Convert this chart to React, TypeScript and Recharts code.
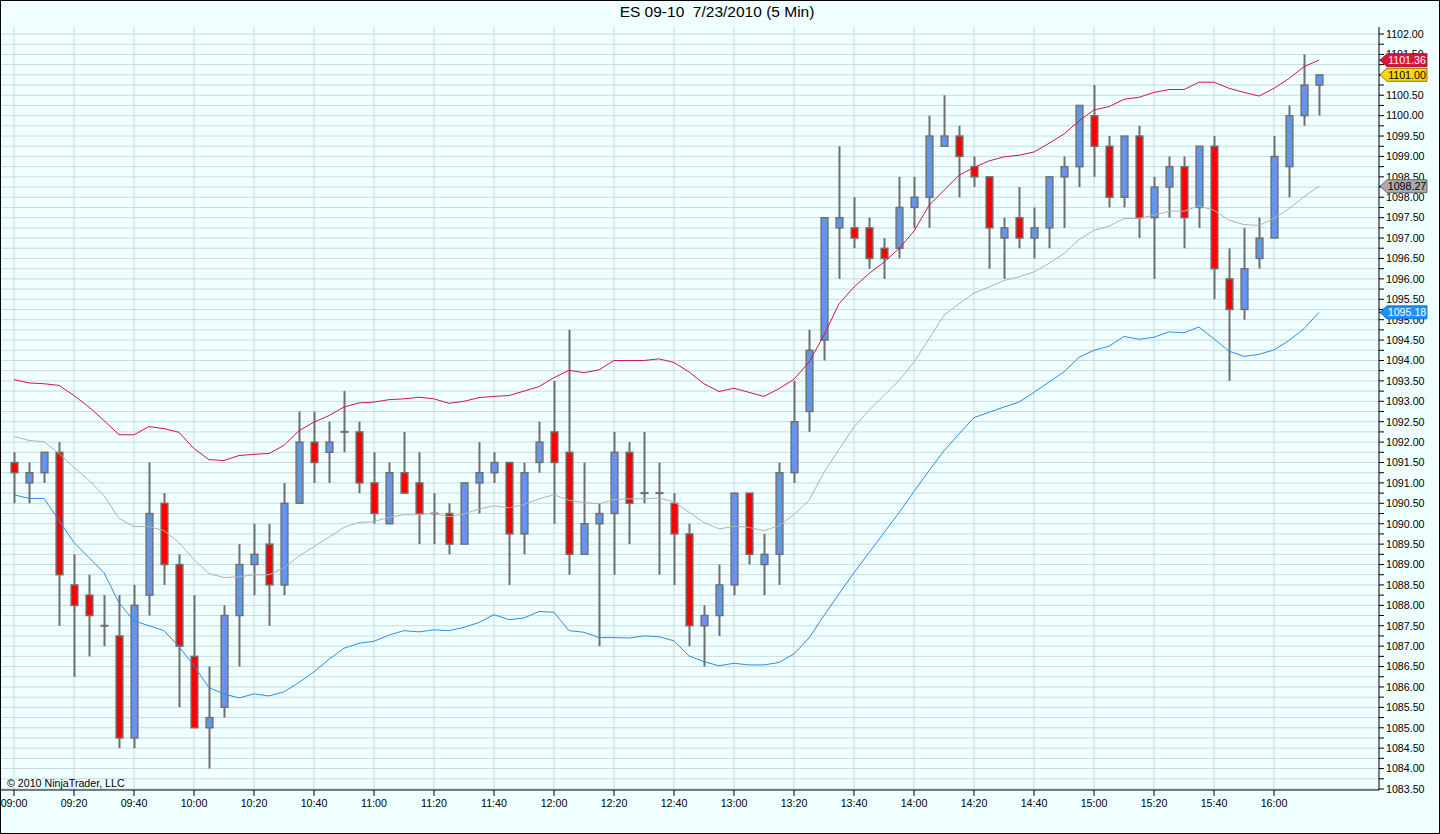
import React from 'react';
import { ComposedChart, Bar, Line, XAxis, YAxis, CartesianGrid } from 'recharts';

const FONT = "'Liberation Sans', Arial, sans-serif";

const openPrices = [
  1091.5, 1091.0, 1091.25, 1091.75, 1088.5, 1088.25, 1087.5, 1087.25, 1084.75, 1088.25,
  1090.5, 1089.0, 1086.75, 1085.0, 1085.5, 1087.75, 1089.0, 1089.5, 1088.5, 1090.5,
  1092.0, 1091.75, 1092.25, 1092.25, 1091.0, 1090.0, 1091.25, 1091.0, 1090.25, 1090.25,
  1089.5, 1091.0, 1091.25, 1091.5, 1089.75, 1091.5, 1092.25, 1091.75, 1089.25, 1090.0,
  1090.25, 1091.75, 1090.75, 1090.75, 1090.5, 1089.75, 1087.5, 1087.75, 1088.5, 1090.75,
  1089.0, 1089.25, 1091.25, 1092.75, 1094.5, 1097.25, 1097.25, 1097.25, 1096.75, 1096.75,
  1097.75, 1098.0, 1099.25, 1099.5, 1098.75, 1098.5, 1097.0, 1097.5, 1097.0, 1097.25,
  1098.5, 1098.75, 1100.0, 1099.25, 1098.0, 1099.5, 1097.5, 1098.25, 1098.75, 1097.75,
  1099.25, 1096.0, 1095.25, 1096.5, 1097.0, 1098.75, 1100.0, 1100.75,
];

const highPrices = [
  1091.75, 1091.5, 1091.75, 1092.0, 1089.25, 1088.75, 1088.25, 1088.25, 1088.5, 1091.5,
  1090.75, 1089.25, 1088.25, 1086.5, 1088.0, 1089.5, 1090.0, 1090.0, 1091.0, 1092.75,
  1092.75, 1092.5, 1093.25, 1092.5, 1091.75, 1091.5, 1092.25, 1091.75, 1090.75, 1090.5,
  1091.0, 1092.0, 1091.75, 1091.5, 1091.5, 1092.5, 1093.5, 1094.75, 1091.5, 1090.5,
  1092.25, 1092.0, 1092.25, 1091.5, 1090.75, 1090.0, 1088.0, 1089.0, 1090.75, 1090.75,
  1089.75, 1091.5, 1093.5, 1094.75, 1097.5, 1099.25, 1098.0, 1097.5, 1097.0, 1098.5,
  1098.5, 1100.0, 1100.5, 1099.75, 1099.0, 1098.5, 1097.5, 1098.25, 1097.75, 1098.5,
  1099.0, 1100.25, 1100.75, 1099.5, 1099.5, 1099.75, 1098.5, 1099.0, 1099.0, 1099.25,
  1099.5, 1096.75, 1097.25, 1097.5, 1099.5, 1100.25, 1101.5, 1101.0,
];

const lowPrices = [
  1090.5, 1090.5, 1091.0, 1087.5, 1086.25, 1086.75, 1087.0, 1084.5, 1084.5, 1087.75,
  1088.5, 1085.5, 1085.0, 1084.0, 1085.25, 1086.5, 1088.25, 1087.5, 1088.25, 1090.5,
  1091.0, 1091.0, 1091.75, 1090.75, 1090.0, 1090.0, 1090.75, 1089.5, 1089.5, 1089.25,
  1089.5, 1090.25, 1091.0, 1088.5, 1089.25, 1091.25, 1090.0, 1088.75, 1089.25, 1087.0,
  1088.75, 1089.5, 1090.5, 1088.75, 1088.5, 1087.0, 1086.5, 1087.25, 1088.25, 1089.0,
  1088.25, 1088.5, 1091.0, 1092.25, 1094.0, 1096.0, 1096.75, 1096.25, 1096.0, 1096.5,
  1097.25, 1097.25, 1099.25, 1098.0, 1098.25, 1096.25, 1096.0, 1096.75, 1096.5, 1096.75,
  1097.25, 1098.25, 1098.5, 1097.75, 1097.75, 1097.0, 1096.0, 1097.5, 1096.75, 1097.25,
  1095.5, 1093.5, 1095.0, 1096.25, 1097.0, 1098.0, 1099.75, 1100.0,
];

const closePrices = [
  1091.25, 1091.25, 1091.75, 1088.75, 1088.0, 1087.75, 1087.5, 1084.75, 1088.0, 1090.25,
  1089.0, 1087.0, 1085.0, 1085.25, 1087.75, 1089.0, 1089.25, 1088.5, 1090.5, 1092.0,
  1091.5, 1092.0, 1092.25, 1091.0, 1090.25, 1091.25, 1090.75, 1090.25, 1090.25, 1089.5,
  1091.0, 1091.25, 1091.5, 1089.75, 1091.25, 1092.0, 1091.5, 1089.25, 1090.0, 1090.25,
  1091.75, 1090.5, 1090.75, 1090.75, 1089.75, 1087.5, 1087.75, 1088.5, 1090.75, 1089.25,
  1089.25, 1091.25, 1092.5, 1094.25, 1097.5, 1097.5, 1097.0, 1096.5, 1096.5, 1097.75,
  1098.0, 1099.5, 1099.5, 1099.0, 1098.5, 1097.25, 1097.25, 1097.0, 1097.25, 1098.5,
  1098.75, 1100.25, 1099.25, 1098.0, 1099.5, 1097.5, 1098.25, 1098.75, 1097.5, 1099.25,
  1096.25, 1095.25, 1096.25, 1097.0, 1099.0, 1100.0, 1100.75, 1101.0,
];

const upperBand = [
  1093.53, 1093.45, 1093.43, 1093.39, 1093.14, 1092.86, 1092.53, 1092.18, 1092.18, 1092.38,
  1092.33, 1092.24, 1091.84, 1091.57, 1091.55, 1091.67, 1091.70, 1091.72, 1091.92, 1092.28,
  1092.49, 1092.65, 1092.86, 1092.96, 1092.98, 1093.04, 1093.06, 1093.10, 1093.06, 1092.95,
  1093.00, 1093.09, 1093.12, 1093.14, 1093.25, 1093.36, 1093.58, 1093.76, 1093.70, 1093.77,
  1094.00, 1094.00, 1094.00, 1094.04, 1093.95, 1093.72, 1093.43, 1093.24, 1093.32, 1093.22,
  1093.12, 1093.31, 1093.54, 1093.96, 1094.62, 1095.39, 1095.80, 1096.13, 1096.41, 1096.74,
  1097.17, 1097.80, 1098.17, 1098.54, 1098.73, 1098.89, 1098.99, 1099.03, 1099.11, 1099.32,
  1099.55, 1099.87, 1100.14, 1100.22, 1100.40, 1100.45, 1100.57, 1100.64, 1100.64, 1100.82,
  1100.82, 1100.67, 1100.57, 1100.48, 1100.67, 1100.91, 1101.20, 1101.36,
];

const middleBand = [
  1092.14, 1092.04, 1092.01, 1091.72, 1091.38, 1091.06, 1090.69, 1090.13, 1089.93, 1089.93,
  1089.83, 1089.54, 1089.12, 1088.78, 1088.68, 1088.70, 1088.75, 1088.75, 1088.92, 1089.21,
  1089.44, 1089.67, 1089.91, 1090.03, 1090.05, 1090.16, 1090.22, 1090.22, 1090.26, 1090.17,
  1090.24, 1090.36, 1090.44, 1090.39, 1090.47, 1090.61, 1090.71, 1090.57, 1090.52, 1090.49,
  1090.59, 1090.61, 1090.61, 1090.63, 1090.54, 1090.28, 1090.03, 1089.87, 1089.94, 1089.91,
  1089.83, 1089.95, 1090.22, 1090.57, 1091.26, 1091.82, 1092.37, 1092.78, 1093.14, 1093.51,
  1093.96, 1094.53, 1095.11, 1095.39, 1095.65, 1095.80, 1095.96, 1096.05, 1096.17, 1096.38,
  1096.62, 1096.96, 1097.19, 1097.29, 1097.48, 1097.48, 1097.56, 1097.66, 1097.66, 1097.79,
  1097.68, 1097.44, 1097.33, 1097.31, 1097.48, 1097.72, 1098.01, 1098.27,
];

const lowerBand = [
  1090.71, 1090.62, 1090.62, 1090.08, 1089.54, 1089.17, 1088.80, 1088.06, 1087.62, 1087.50,
  1087.38, 1086.99, 1086.52, 1085.98, 1085.83, 1085.73, 1085.83, 1085.78, 1085.88, 1086.11,
  1086.37, 1086.68, 1086.95, 1087.07, 1087.12, 1087.27, 1087.38, 1087.35, 1087.40, 1087.38,
  1087.46, 1087.58, 1087.77, 1087.65, 1087.69, 1087.85, 1087.83, 1087.38, 1087.34, 1087.21,
  1087.21, 1087.20, 1087.25, 1087.23, 1087.13, 1086.76, 1086.62, 1086.52, 1086.58, 1086.54,
  1086.54, 1086.60, 1086.81, 1087.20, 1087.75, 1088.28, 1088.80, 1089.29, 1089.78, 1090.27,
  1090.79, 1091.30, 1091.79, 1092.20, 1092.60, 1092.73, 1092.86, 1092.98, 1093.22, 1093.47,
  1093.72, 1094.08, 1094.25, 1094.35, 1094.59, 1094.52, 1094.57, 1094.70, 1094.68, 1094.82,
  1094.53, 1094.23, 1094.10, 1094.15, 1094.26, 1094.49, 1094.78, 1095.18,
];

const xTickIndex = [0, 4, 8, 12, 16, 20, 24, 28, 32, 36, 40, 44, 48, 52, 56, 60, 64, 68, 72, 76, 80, 84];
const xTickLabels = [
  '09:00', '09:20', '09:40', '10:00', '10:20', '10:40', '11:00', '11:20', '11:40', '12:00', '12:20',
  '12:40', '13:00', '13:20', '13:40', '14:00', '14:20', '14:40', '15:00', '15:20', '15:40', '16:00',
];
const yTicks = Array.from({ length: 75 }, (_, k) => 1083.5 + k * 0.25);

const data = openPrices.map((o, i) => ({
  i,
  open: o,
  high: highPrices[i],
  low: lowPrices[i],
  close: closePrices[i],
  range: [lowPrices[i], highPrices[i]],
  upper: upperBand[i],
  middle: middleBand[i],
  lower: lowerBand[i],
}));

const last = closePrices.length - 1;
const markers = [
  { value: upperBand[last], fill: '#DC143C', stroke: '#8a1028', color: '#ffffff' },
  { value: closePrices[last], fill: '#FFD700', stroke: '#6b5a00', color: '#000000' },
  { value: middleBand[last], fill: '#A9A9A9', stroke: '#555555', color: '#000000' },
  { value: lowerBand[last], fill: '#1E90FF', stroke: '#0f5aa8', color: '#ffffff' },
];
// axis ticks: regular price ticks first, then the price tags so the tags paint on top
const axisTicks = [...yTicks, ...markers.map((m) => m.value)];

const Y_AXIS_WIDTH = 61;
const Y_TICK_SIZE = 5;
const Y_TICK_MARGIN = 2;
const Y_DOMAIN = [1083.475, 1102.172];
const X_DOMAIN = [-0.933, 91];
const OUTLINE = '#6e6e6e';

const Candle = (props: any) => {
  const { x, y, width, height, payload } = props;
  if (!payload || x == null || y == null) return null;
  const top = Math.min(y, y + height);
  const bot = Math.max(y, y + height);
  const H = payload.high;
  const L = payload.low;
  const k = H - L === 0 ? 0 : (bot - top) / (H - L);
  const pv = (v: number) => top + (H - v) * k;
  const cx = x + width / 2;
  const o = payload.open;
  const c = payload.close;
  const bTop = pv(Math.max(o, c));
  const bBot = pv(Math.min(o, c));
  const up = c > o;
  return (
    <g>
      <line x1={cx} x2={cx} y1={top} y2={bot} stroke={OUTLINE} strokeWidth={2} />
      {o === c ? (
        <line x1={cx - 4} x2={cx + 4} y1={bTop} y2={bTop} stroke={OUTLINE} strokeWidth={2} />
      ) : (
        <rect
          x={cx - 3.4}
          width={6.8}
          y={bTop}
          height={Math.max(bBot - bTop, 1)}
          fill={up ? '#6495ED' : '#FF0000'}
          stroke={OUTLINE}
          strokeWidth={1.4}
        />
      )}
    </g>
  );
};

const PriceTick = (props: any) => {
  const { x, y, payload, index } = props;
  if (x == null || y == null || !payload) return null;
  const v = payload.value;
  if (index >= yTicks.length) {
    const m = markers[index - yTicks.length];
    if (!m) return null;
    const R = x - Y_TICK_SIZE - Y_TICK_MARGIN;
    const h = 6.5;
    const pts = `${R + 1},${y} ${R + 8},${y - h} ${R + 48},${y - h} ${R + 48},${y + h} ${R + 8},${y + h}`;
    return (
      <g>
        <polygon points={pts} fill={m.fill} stroke={m.stroke} strokeWidth={0.8} />
        <text x={R + 28} y={y} dy="0.36em" textAnchor="middle" fontSize={10.67} fontFamily={FONT} fill={m.color}>
          {m.value.toFixed(2)}
        </text>
      </g>
    );
  }
  if (Math.round(v * 4) % 2 !== 0) return null;
  return (
    <text x={x} y={y} dy="0.36em" textAnchor="start" fontSize={10.67} fontFamily={FONT} fill="#000">
      {v.toFixed(2)}
    </text>
  );
};

const tickStyle = { fill: '#000', fontSize: 10.67, fontFamily: FONT };

export default function App() {
  return (
    <div
      style={{
        position: 'absolute',
        left: 0,
        top: 0,
        width: 1440,
        height: 834,
        background: '#F0FFFF',
        overflow: 'hidden',
      }}
    >
      <div
        style={{
          position: 'absolute',
          left: 0,
          top: 3,
          width: 1434,
          height: 18,
          lineHeight: '18px',
          textAlign: 'center',
          fontFamily: FONT,
          fontSize: 15.5,
          color: '#000',
          whiteSpace: 'pre',
        }}
      >
        {'ES 09-10  7/23/2010 (5 Min)'}
      </div>
      <ComposedChart width={1440} height={834} data={data} margin={{ top: 27, right: 0, bottom: 0, left: 0 }}>
        <CartesianGrid stroke="#cbd9dd" strokeWidth={1} horizontalValues={yTicks} verticalValues={xTickIndex} />
        <XAxis
          dataKey="i"
          type="number"
          domain={X_DOMAIN}
          ticks={xTickIndex}
          interval={0}
          tickFormatter={(v: number) => xTickLabels[xTickIndex.indexOf(v)] ?? ''}
          height={44}
          tickSize={6}
          tickMargin={3}
          axisLine={{ stroke: '#000' }}
          tickLine={{ stroke: '#000' }}
          tick={tickStyle}
        />
        <XAxis
          xAxisId="top"
          orientation="top"
          dataKey="i"
          type="number"
          domain={X_DOMAIN}
          height={0}
          tick={false}
          tickLine={false}
          axisLine={{ stroke: '#000' }}
        />
        <YAxis
          orientation="right"
          type="number"
          domain={Y_DOMAIN}
          ticks={axisTicks}
          interval={0}
          width={Y_AXIS_WIDTH}
          tickSize={Y_TICK_SIZE}
          tickMargin={Y_TICK_MARGIN}
          axisLine={{ stroke: '#000' }}
          tickLine={{ stroke: '#000' }}
          tick={(p: any) => <PriceTick {...p} />}
        />
        <Bar dataKey="range" barSize={8} shape={(p: any) => <Candle {...p} />} isAnimationActive={false} />
        <Line type="linear" dataKey="upper" stroke="#D0164A" strokeWidth={1} dot={false} activeDot={false} isAnimationActive={false} />
        <Line type="linear" dataKey="middle" stroke="#B2B2B2" strokeWidth={1} dot={false} activeDot={false} isAnimationActive={false} />
        <Line type="linear" dataKey="lower" stroke="#2A8FE6" strokeWidth={1} dot={false} activeDot={false} isAnimationActive={false} />
      </ComposedChart>
      <div
        style={{
          position: 'absolute',
          left: 7,
          top: 777,
          fontFamily: FONT,
          fontSize: 10.67,
          lineHeight: '13px',
          color: '#000',
          whiteSpace: 'pre',
        }}
      >
        {'© 2010 NinjaTrader, LLC'}
      </div>
      <div
        style={{
          position: 'absolute',
          left: 0,
          top: 0,
          width: 1440,
          height: 834,
          boxSizing: 'border-box',
          border: '1px solid #000',
          pointerEvents: 'none',
        }}
      />
    </div>
  );
}
